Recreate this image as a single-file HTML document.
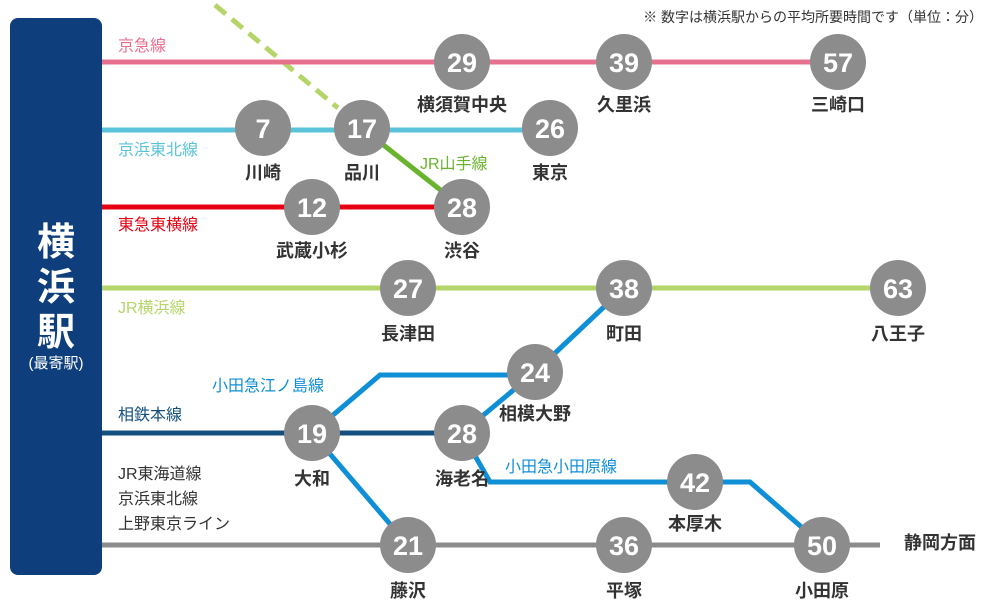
<!DOCTYPE html>
<html><head><meta charset="utf-8"><style>
body{margin:0;background:#fff;}
svg{display:block;font-family:"Liberation Sans","Noto Sans CJK JP",sans-serif;}
.n{fill:#fff;font-size:27px;font-weight:bold;text-anchor:middle;}
.s{fill:#333;font-size:18px;font-weight:bold;text-anchor:middle;}
.l{font-size:16px;}
</style></head><body>
<svg width="1000" height="612" viewBox="0 0 1000 612">
<rect x="10" y="18" width="92" height="557" rx="8" fill="#0e3f7c"/>
<text x="56" y="255" fill="#fff" font-size="38" font-weight="bold" text-anchor="middle">横</text>
<text x="56" y="300" fill="#fff" font-size="38" font-weight="bold" text-anchor="middle">浜</text>
<text x="56" y="345" fill="#fff" font-size="38" font-weight="bold" text-anchor="middle">駅</text>
<text x="56" y="368" fill="#fff" font-size="15" text-anchor="middle">(最寄駅)</text>
<text x="983" y="22" fill="#333" font-size="14" text-anchor="end">※ 数字は横浜駅からの平均所要時間です（単位：分）</text>

<g stroke-width="5" fill="none">
<line x1="215" y1="5" x2="338" y2="108" stroke="#b5d56a" stroke-dasharray="14,8"/>
<line x1="362" y1="128" x2="462" y2="207" stroke="#6ab42d"/>
<line x1="102" y1="62" x2="838" y2="62" stroke="#e8708f"/>
<line x1="102" y1="130" x2="550" y2="130" stroke="#5bc3d9"/>
<line x1="102" y1="207" x2="462" y2="207" stroke="#e60012"/>
<line x1="102" y1="288" x2="898" y2="288" stroke="#b5d56a"/>
<line x1="102" y1="433" x2="462" y2="433" stroke="#13507f"/>
<line x1="102" y1="545" x2="880" y2="545" stroke="#8c8c8c"/>
<polyline points="312,433 380,375 535,375" stroke="#0f8fd6"/>
<line x1="535" y1="372" x2="624" y2="288" stroke="#0f8fd6"/>
<line x1="462" y1="433" x2="535" y2="372" stroke="#0f8fd6"/>
<line x1="312" y1="433" x2="408" y2="545" stroke="#0f8fd6"/>
<polyline points="462,433 490,482 750,482 822,545" stroke="#0f8fd6"/>
</g>

<g class="l">
<text x="118" y="51" fill="#e8708f">京急線</text>
<text x="118" y="155" fill="#5bc3d9">京浜東北線</text>
<text x="118" y="230" fill="#e60012">東急東横線</text>
<text x="118" y="313" fill="#b5d56a">JR横浜線</text>
<text x="118" y="420" fill="#13507f">相鉄本線</text>
<text x="118" y="479" fill="#333">JR東海道線</text>
<text x="118" y="504" fill="#333">京浜東北線</text>
<text x="118" y="529" fill="#333">上野東京ライン</text>
<text x="420" y="169" fill="#6ab42d">JR山手線</text>
<text x="212" y="391" fill="#0f8fd6">小田急江ノ島線</text>
<text x="505" y="472" fill="#0f8fd6">小田急小田原線</text>
</g>

<g fill="#8c8c8c">
<circle cx="462" cy="62" r="28"/><circle cx="624" cy="62" r="28"/><circle cx="838" cy="62" r="28"/>
<circle cx="263" cy="128" r="28"/><circle cx="362" cy="128" r="28"/><circle cx="550" cy="128" r="28"/>
<circle cx="312" cy="207" r="28"/><circle cx="462" cy="207" r="28"/>
<circle cx="408" cy="288" r="28"/><circle cx="624" cy="288" r="28"/><circle cx="898" cy="288" r="28"/>
<circle cx="535" cy="372" r="28"/>
<circle cx="312" cy="433" r="28"/><circle cx="462" cy="433" r="28"/>
<circle cx="695" cy="482" r="28"/>
<circle cx="408" cy="545" r="28"/><circle cx="624" cy="545" r="28"/><circle cx="822" cy="545" r="28"/>
</g>
<g class="n">
<text x="462" y="72">29</text><text x="624" y="72">39</text><text x="838" y="72">57</text>
<text x="263" y="138">7</text><text x="362" y="138">17</text><text x="550" y="138">26</text>
<text x="312" y="217">12</text><text x="462" y="217">28</text>
<text x="408" y="298">27</text><text x="624" y="298">38</text><text x="898" y="298">63</text>
<text x="535" y="382">24</text>
<text x="312" y="443">19</text><text x="462" y="443">28</text>
<text x="695" y="492">42</text>
<text x="408" y="555">21</text><text x="624" y="555">36</text><text x="822" y="555">50</text>
</g>
<g class="s">
<text x="462" y="111">横須賀中央</text><text x="624" y="111">久里浜</text><text x="838" y="111">三崎口</text>
<text x="263" y="179">川崎</text><text x="362" y="179">品川</text><text x="550" y="179">東京</text>
<text x="312" y="257">武蔵小杉</text><text x="462" y="257">渋谷</text>
<text x="408" y="340">長津田</text><text x="624" y="340">町田</text><text x="898" y="340">八王子</text>
<text x="535" y="420">相模大野</text>
<text x="312" y="485">大和</text><text x="462" y="485">海老名</text>
<text x="695" y="530">本厚木</text>
<text x="408" y="597">藤沢</text><text x="624" y="597">平塚</text><text x="822" y="597">小田原</text>
<text x="940" y="549">静岡方面</text>
</g>
</svg>
</body></html>
